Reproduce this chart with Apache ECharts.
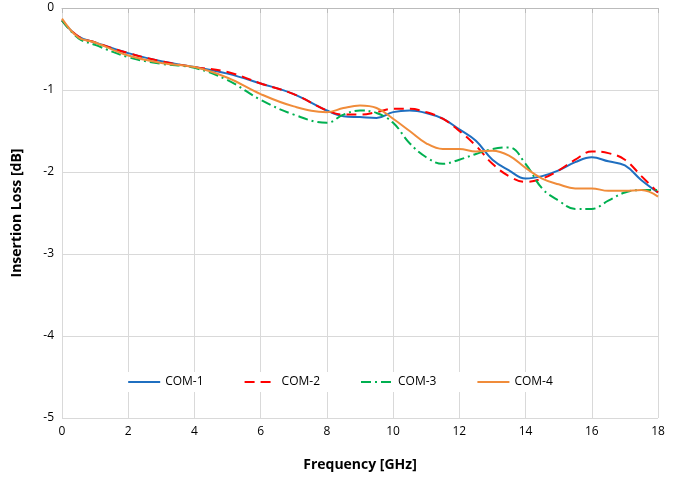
<!DOCTYPE html><html><head><meta charset="utf-8"><script src="https://cdn.jsdelivr.net/npm/echarts@6/dist/echarts.min.js"></script></head><body style="margin:0"><div id="c" style="width:680px;height:480px"></div><script>
const freq=[0,0.5,1,2,3,4,5,6,7,8,8.5,9,9.5,10,10.5,11,11.5,12,12.5,13,13.5,14,14.5,15,15.5,16,16.5,17,17.5,18];
const com1=[-0.15,-0.35,-0.42,-0.55,-0.65,-0.72,-0.8,-0.92,-1.05,-1.25,-1.32,-1.33,-1.34,-1.27,-1.25,-1.28,-1.35,-1.48,-1.62,-1.85,-1.98,-2.08,-2.05,-1.98,-1.88,-1.82,-1.87,-1.92,-2.1,-2.25];
const com2=[-0.15,-0.35,-0.42,-0.55,-0.65,-0.72,-0.78,-0.92,-1.05,-1.25,-1.3,-1.3,-1.27,-1.23,-1.23,-1.27,-1.35,-1.5,-1.68,-1.9,-2.05,-2.12,-2.08,-1.98,-1.85,-1.75,-1.77,-1.85,-2.05,-2.25];
const com3=[-0.15,-0.37,-0.45,-0.6,-0.68,-0.73,-0.88,-1.12,-1.3,-1.4,-1.3,-1.25,-1.28,-1.4,-1.65,-1.82,-1.9,-1.85,-1.78,-1.72,-1.7,-1.9,-2.2,-2.35,-2.45,-2.45,-2.35,-2.25,-2.22,-2.22];
const com4=[-0.13,-0.36,-0.42,-0.58,-0.67,-0.72,-0.85,-1.05,-1.2,-1.27,-1.22,-1.19,-1.22,-1.35,-1.5,-1.65,-1.72,-1.72,-1.75,-1.74,-1.8,-1.95,-2.08,-2.15,-2.2,-2.2,-2.23,-2.23,-2.22,-2.3];
const pair=a=>a.map((v,i)=>[freq[i],v]);
const F='Open Sans, sans-serif';
const mk=(n,d,c,t)=>({name:n,type:'line',data:pair(d),smooth:0.4,symbol:'none',lineStyle:{color:c,width:2,type:t},itemStyle:{color:c}});
echarts.init(document.getElementById('c')).setOption({
animation:false,
grid:{left:62,right:22,top:8,bottom:62},
legend:{bottom:88,left:'center',itemGap:40,backgroundColor:'#fff',padding:[4,10],itemWidth:32,itemStyle:{opacity:0},textStyle:{fontFamily:F,fontSize:12,color:'#000'},data:['COM-1','COM-2','COM-3','COM-4']},
xAxis:{type:'value',min:0,max:18,interval:2,name:'Frequency [GHz]',nameLocation:'middle',nameGap:40,nameTextStyle:{fontFamily:F,fontWeight:'bold',fontSize:14,color:'#000'},axisLine:{lineStyle:{color:'#bbb'}},axisTick:{show:true,lineStyle:{color:'#bbb'}},axisLabel:{fontFamily:F,fontSize:12,color:'#000'},splitLine:{lineStyle:{color:'#d9d9d9'}}},
yAxis:{type:'value',min:-5,max:0,interval:1,name:'Insertion Loss [dB]',nameLocation:'middle',nameGap:38,nameTextStyle:{fontFamily:F,fontWeight:'bold',fontSize:14,color:'#000'},axisLine:{show:false},axisTick:{show:false},axisLabel:{fontFamily:F,fontSize:12,color:'#000'},splitLine:{lineStyle:{color:'#d9d9d9'}}},
series:[mk('COM-1',com1,'#1f6fc0','solid'),mk('COM-2',com2,'#ff0000',[10,6]),mk('COM-3',com3,'#00b050',[10,4,2,4]),mk('COM-4',com4,'#f08c3a','solid')]
});
</script></body></html>
